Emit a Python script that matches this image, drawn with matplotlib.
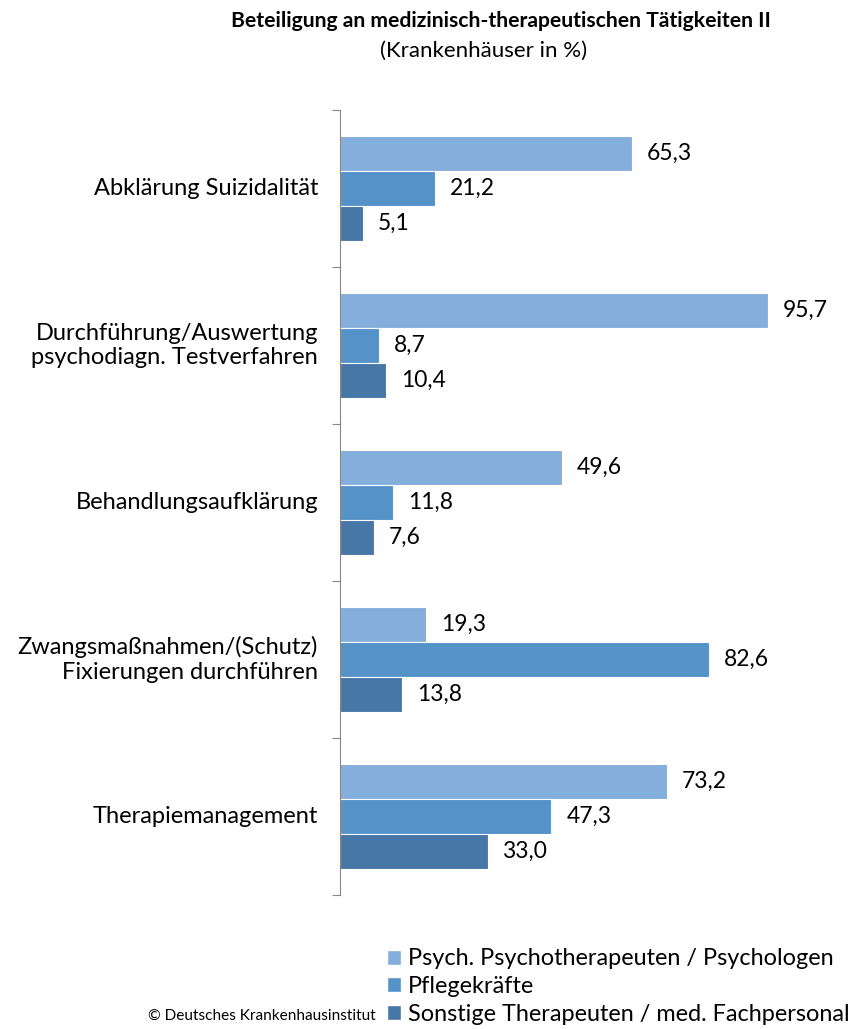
import matplotlib.pyplot as plt
from matplotlib.patches import Patch

categories = ['Abklärung Suizidalität',
              'Durchführung/Auswertung\npsychodiagn. Testverfahren',
              'Behandlungsaufklärung',
              'Zwangsmaßnahmen/(Schutz)\nFixierungen durchführen',
              'Therapiemanagement']
series_names = ['Psych. Psychotherapeuten / Psychologen',
                'Pflegekräfte',
                'Sonstige Therapeuten / med. Fachpersonal']
psychologen = [65.3, 95.7, 49.6, 19.3, 73.2]
pflege = [21.2, 8.7, 11.8, 82.6, 47.3]
sonstige = [5.1, 10.4, 7.6, 13.8, 33.0]

colors = ['#84AEDB', '#5592C8', '#4777A6']
plt.rcParams['font.family'] = ['Lato', 'DejaVu Sans']

fig = plt.figure(figsize=(8.55, 10.29), dpi=100)
ax = fig.add_axes([340 / 855, 1 - 895 / 1029, 500 / 855, 785 / 1029])

h = 0.223
for i, (vals, col) in enumerate(zip([psychologen, pflege, sonstige], colors)):
    ys = [k + (i - 1) * h for k in range(len(categories))]
    ax.barh(ys, vals, height=h, color=col, edgecolor='white', linewidth=0.8)
    for y, v in zip(ys, vals):
        ax.annotate(f'{v:.1f}'.replace('.', ','), (v, y), xytext=(15, 0),
                    textcoords='offset pixels', va='center', ha='left', fontsize=16.5)

ax.set_xlim(0, 500 / 4.47)
ax.set_ylim(len(categories) - 0.5, -0.5)
ax.set_xticks([])
ax.set_yticks([k - 0.5 for k in range(len(categories) + 1)])
ax.set_yticklabels([])
ax.tick_params(axis='y', direction='out', length=6, color='#868686')
for s in ['top', 'right', 'bottom']:
    ax.spines[s].set_visible(False)
ax.spines['left'].set_color('#868686')

for k, cat in enumerate(categories):
    ax.annotate(cat, (0, k), xytext=(-22, 0), textcoords='offset pixels',
                ha='right', va='center', fontsize=17, linespacing=1.22)

fig.text(501 / 855, 1 - 21 / 1029, 'Beteiligung an medizinisch-therapeutischen Tätigkeiten II',
         ha='center', va='center', fontsize=15.2, fontweight='bold')
fig.text(484 / 855, 1 - 51 / 1029, '(Krankenhäuser in %)',
         ha='center', va='center', fontsize=16)

handles = [Patch(facecolor=c, edgecolor='white') for c in colors]
fig.legend(handles, series_names, loc='upper left', bbox_to_anchor=(378 / 855, 1 - 939 / 1029),
           frameon=False, fontsize=16.9, handlelength=0.6, handleheight=0.6,
           handletextpad=0.28, labelspacing=0.28, borderaxespad=0)

fig.text(148 / 855, 1 - 1016 / 1029, '© Deutsches Krankenhausinstitut',
         ha='left', va='center', fontsize=11.1)

fig.savefig('out.png', dpi=100)
